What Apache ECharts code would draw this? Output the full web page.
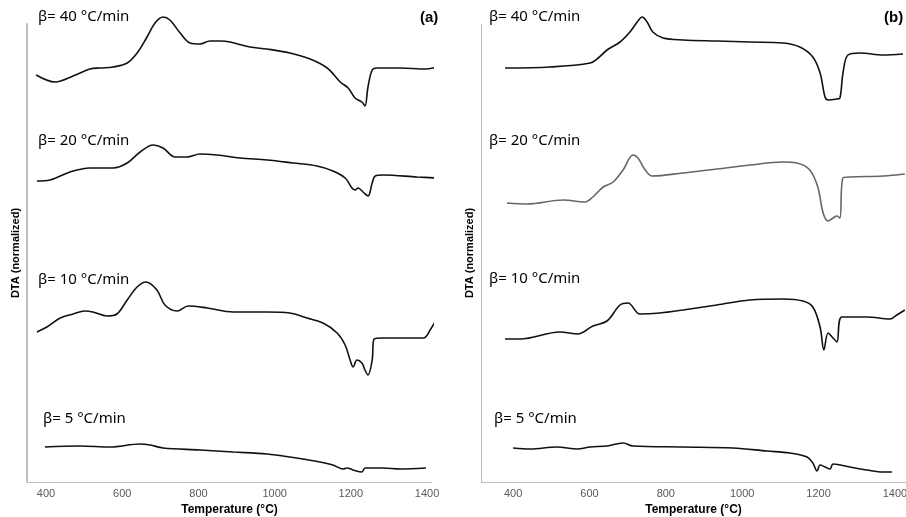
<!DOCTYPE html>
<html>
<head>
<meta charset="utf-8">
<script src="https://cdn.jsdelivr.net/npm/echarts@6/dist/echarts.min.js"></script>
<style>html,body{margin:0;padding:0;background:#fff}#c{width:906px;height:517px}</style>
</head>
<body>
<div id="c"></div>
<script>
// Tick labels
const tickLabels = [400, 600, 800, 1000, 1200, 1400];
const curveLabels = ['β= 40 °C/min', 'β= 20 °C/min', 'β= 10 °C/min', 'β= 5 °C/min'];
const panelLabels = ['(a)', '(b)'];

// Panel (a) — temperature (°C) and DTA (normalized, offset units)
const tA40 = [374,424,471,515,542,576,613,639,665,686,707,725,752,778,804,830,857,883,935,980,1040,1093,1138,1172,1193,1211,1229,1237,1245,1256,1269,1329,1395,1426];
const vA40 = [407,400,406,413,414,415,419,429,445,459,465,462,449,439,438,441,441,440,435,433,429,423,414,400,394,384,380,376,395,412,414,414,413,415];
const tA20 = [376,410,463,515,576,613,647,681,707,739,770,804,849,909,980,1048,1111,1153,1185,1203,1211,1219,1232,1245,1256,1264,1285,1374,1426];
const vA20 = [301,302,310,314,314,319,330,337,334,325,325,328,327,324,322,319,316,311,304,294,292,294,290,286,299,306,307,305,304];
const tA10 = [376,402,437,471,502,523,560,586,613,639,662,691,712,744,773,823,891,980,1040,1085,1127,1164,1185,1198,1206,1216,1229,1237,1245,1256,1261,1285,1390,1408,1426];
const vA10 = [150,155,164,168,171,170,166,168,182,195,200,192,177,171,176,174,170,170,169,164,159,149,137,122,115,122,119,112,107,122,143,144,144,152,164];
const tA5 = [397,489,568,647,673,707,804,891,980,1040,1119,1153,1180,1190,1206,1229,1237,1285,1329,1397];
const vA5 = [35,36,35,38,37,34,32,30,28,25,20,17,13,14,12,10,14,14,13,14];

// Panel (b)
const tB40 = [379,497,602,623,646,680,706,725,738,751,766,793,845,934,1020,1107,1151,1185,1204,1217,1225,1248,1256,1264,1277,1308,1369,1421];
const vB40 = [414,415,419,424,432,440,450,460,465,460,450,444,442,441,440,439,435,425,409,385,382,383,384,409,427,429,427,428];
const tB20 = [384,437,531,588,609,636,662,688,714,727,746,764,845,934,1020,1107,1143,1177,1198,1212,1225,1238,1248,1256,1264,1282,1369,1426];
const vB20 = [279,278,282,280,285,295,300,312,327,324,312,306,309,313,317,320,319,312,295,269,261,264,266,264,304,305,306,308];
const tB10 = [379,418,523,570,609,646,680,701,732,785,845,934,1020,1107,1159,1185,1204,1214,1225,1238,1248,1261,1327,1387,1405,1426];
const vB10 = [143,143,150,148,156,161,177,179,168,169,172,177,182,183,181,175,155,132,149,144,140,165,165,163,167,172];
const tB5 = [400,445,515,568,602,646,688,714,845,976,1065,1125,1170,1185,1196,1204,1217,1230,1238,1282,1327,1369,1392];
const vB5 = [34,33,35,33,35,36,39,36,35,34,31,29,25,19,11,17,15,13,18,15,12,10,10];

function zip(t, v) { return t.map((x, i) => [x, v[i]]); }

const chart = echarts.init(document.getElementById('c'), null, {renderer: 'canvas'});

function xAxisFor(gi, min, max) {
  return {
    type: 'value', gridIndex: gi, min: min, max: max,
    name: 'Temperature (°C)', nameLocation: 'middle', nameGap: 22,
    nameTextStyle: {fontFamily: 'Liberation Sans', fontWeight: 'bold', fontSize: 12, color: '#000'},
    axisLine: {show: true, lineStyle: {color: '#bfbfbf', width: 1}},
    axisTick: {show: false},
    splitLine: {show: false},
    axisLabel: {customValues: tickLabels, formatter: (v) => String(v),
      fontFamily: 'Liberation Sans', fontSize: 11, color: '#595959', margin: 6}
  };
}
function yAxisFor(gi, w, gap) {
  return {
    type: 'value', gridIndex: gi, min: 0, max: 458,
    name: 'DTA (normalized)', nameLocation: 'middle', nameGap: gap, nameRotate: 90,
    nameTextStyle: {fontFamily: 'Liberation Sans', fontWeight: 'bold', fontSize: 11, color: '#000'},
    axisLine: {show: true, lineStyle: {color: '#bfbfbf', width: w}},
    axisTick: {show: false}, axisLabel: {show: false}, splitLine: {show: false}
  };
}
function line(gi, t, v, color) {
  return {
    type: 'line', xAxisIndex: gi, yAxisIndex: gi, data: zip(t, v),
    showSymbol: false, smooth: 0.35, clip: false,
    lineStyle: {color: color, width: 1.6}, itemStyle: {color: color}, animation: false
  };
}
function txt(x, y, s, bold, size, align) {
  return {type: 'text', left: x, top: y, style: {text: s, fill: '#000',
    font: (bold ? 'bold ' : '') + size + 'px ' + (bold ? '"Liberation Sans"' : '"Noto Sans"'), textAlign: align || 'left'}};
}

chart.setOption({
  animation: false,
  backgroundColor: '#fff',
  grid: [
    {left: 27, right: 474, top: 24, bottom: 35, outerBoundsMode: 'none', containLabel: false},
    {left: 481, right: 0, top: 24, bottom: 35, outerBoundsMode: 'none', containLabel: false}
  ],
  xAxis: [xAxisFor(0, 350, 1413), xAxisFor(1, 316, 1429)],
  yAxis: [yAxisFor(0, 2, 6), yAxisFor(1, 1, 6)],
  series: [
    line(0, tA40, vA40, '#111'),
    line(0, tA20, vA20, '#111'),
    line(0, tA10, vA10, '#111'),
    line(0, tA5, vA5, '#111'),
    line(1, tB40, vB40, '#111'),
    line(1, tB20, vB20, '#666'),
    line(1, tB10, vB10, '#111'),
    line(1, tB5, vB5, '#111')
  ],
  graphic: [
    txt(38, 9, curveLabels[0], false, 15),
    txt(38, 133, curveLabels[1], false, 15),
    txt(38, 272, curveLabels[2], false, 15),
    txt(43, 411, curveLabels[3], false, 15),
    txt(489, 9, curveLabels[0], false, 15),
    txt(489, 133, curveLabels[1], false, 15),
    txt(489, 271, curveLabels[2], false, 15),
    txt(494, 411, curveLabels[3], false, 15),
    txt(420, 10, panelLabels[0], true, 15),
    txt(884, 10, panelLabels[1], true, 15)
  ]
});
</script>
</body>
</html>
